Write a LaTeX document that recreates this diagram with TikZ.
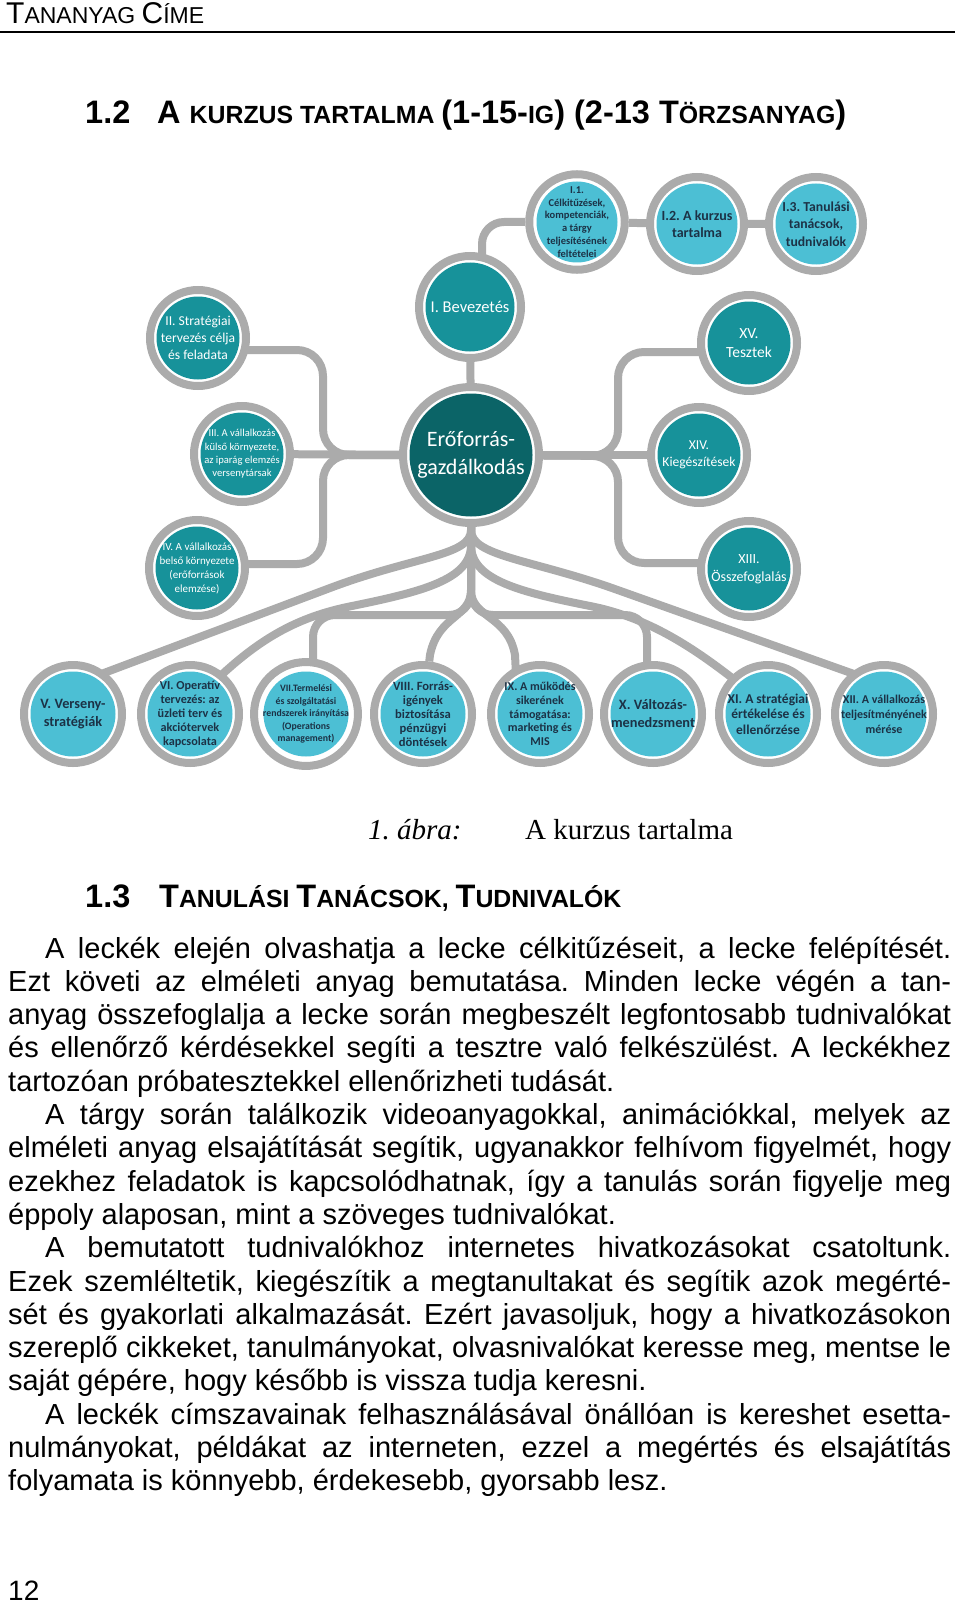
\documentclass[tikz,border=0pt]{standalone}
\usepackage{fontspec}
\setmainfont{Liberation Sans}
\newfontfamily\diagfont{Carlito}
\newfontfamily\serifcap{Liberation Serif}
\usetikzlibrary{calc,backgrounds}
\definecolor{ringgray}{HTML}{ABABAB}
\definecolor{lightb}{HTML}{4CBFD4}
\definecolor{midt}{HTML}{17929A}
\definecolor{darkt}{HTML}{0B6467}
\definecolor{navy}{HTML}{1C3246}
\newcommand\dsz[2]{\fontsize{#1}{#2}\selectfont}
\newcommand\hbig{\fontsize{32.5}{32.5}\selectfont}
\newcommand\hsmall{\fontsize{24.85}{24.85}\selectfont}
\newcommand\tbig{\fontsize{30}{30}\selectfont}
\newcommand\tsmall{\fontsize{23}{23}\selectfont}
\tikzset{
  bub/.style n args={2}{circle, draw=ringgray, line width=8pt, fill=white,
    inner sep=0pt, minimum size={2*#1-8}, align=center,
    path picture={\fill[#2] (path picture bounding box.center) circle ({#1-10.5});}},
  wtxt/.style={text=white},
  dtxt/.style={text=navy},
  conn/.style={draw=ringgray, line width=8pt},
  txt/.style={anchor=base west, inner sep=0pt},
  bodyline/.style={anchor=base west, inner sep=0pt, font=\fontsize{29}{33}\selectfont\frenchspacing},
}
\begin{document}
\frenchspacing
\begin{tikzpicture}[x=1pt,y=-1pt]
\useasboundingbox (0,0) rectangle (960,1605);

% header
\node[txt] (hdr) at (6,23.5) {\tbig T\tsmall ANANYAG \tbig C\tsmall ÍME};
\coordinate (ruleL) at (0,32);
\coordinate (ruleR) at (955,32);
\draw[line width=1.5pt] (ruleL) -- (ruleR);

% heading 1.2
\node[txt, font=\bfseries] (h12n) at (85,124) {\hbig 1.2};
\node[txt, font=\bfseries] (h12) at (157,124) {\hbig A \hsmall KURZUS TARTALMA \hbig(1-15-\hsmall IG\hbig) (2-13 T\hsmall ÖRZSANYAG\hbig)};

% diagram nodes
\node[bub={51}{lightb}, dtxt, font=\diagfont\bfseries\dsz{10.5}{12.8}] (I1) at (577,222) {I.1.\\Célkitűzések,\\kompetenciák,\\a tárgy\\teljesítésének\\feltételei};
\node[bub={51}{lightb}, dtxt, font=\diagfont\bfseries\dsz{14}{17.3}] (I2) at (697,224) {I.2. A kurzus\\tartalma};
\node[bub={51}{lightb}, dtxt, font=\diagfont\bfseries\dsz{13.7}{17.3}] (I3) at (816,224) {I.3. Tanulási\\tanácsok,\\tudnivalók};
\node[bub={55}{midt}, wtxt, font=\diagfont\dsz{16.5}{19}] (I) at (470,307) {I. Bevezetés};
\node[bub={52}{midt}, wtxt, font=\diagfont\dsz{13.6}{17.3}] (II) at (198,338) {II. Stratégiai\\tervezés célja\\és feladata};
\node[bub={52}{midt}, wtxt, font=\diagfont\dsz{15.5}{19}] (XV) at (749,343) {XV.\\Tesztek};
\node[bub={52}{midt}, wtxt, font=\diagfont\dsz{10.6}{13.3}] (III) at (242,454) {III. A vállalkozás\\külső környezete,\\az iparág elemzés\\versenytársak};
\node[bub={72}{darkt}, wtxt, font=\diagfont\dsz{22}{28}] (C) at (471,455) {Erőforrás-\\gazdálkodás};
\node[bub={52}{midt}, wtxt, font=\diagfont\dsz{13.6}{17.6}] (XIV) at (699,455) {XIV.\\Kiegészítések};
\node[bub={52}{midt}, wtxt, font=\diagfont\dsz{11}{14}] (IV) at (197,568) {IV. A vállalkozás\\belső környezete\\(erőforrások\\elemzése)};
\node[bub={52}{midt}, wtxt, font=\diagfont\dsz{14}{17.5}] (XIII) at (749,569) {XIII.\\Összefoglalás};

\node[bub={53}{lightb}, dtxt, font=\diagfont\bfseries\dsz{14.3}{18}] (V) at (73,714) {V. Verseny-\\stratégiák};
\node[bub={53}{lightb}, dtxt, font=\diagfont\bfseries\dsz{12.2}{14}] (VI) at (190,714) {VI. Operatív\\tervezés: az\\üzleti terv és\\akciótervek\\kapcsolata};
\node[bub={53}{lightb}, dtxt, font=\diagfont\bfseries\dsz{9.8}{12.4}] (VII) at (306,714) {VII.Termelési\\és szolgáltatási\\rendszerek irányítása\\(Operations\\management)};
\node[bub={53}{lightb}, dtxt, font=\diagfont\bfseries\dsz{12.6}{14}] (VIII) at (423,714) {VIII. Forrás-\\igények\\biztosítása\\pénzügyi\\döntések};
\node[bub={53}{lightb}, dtxt, font=\diagfont\bfseries\dsz{12}{13.6}] (IX) at (540,714) {IX. A működés\\sikerének\\támogatása:\\marketing és\\MIS};
\node[bub={53}{lightb}, dtxt, font=\diagfont\bfseries\dsz{14.3}{18}] (X) at (653,714) {X. Változás-\\menedzsment};
\node[bub={53}{lightb}, dtxt, font=\diagfont\bfseries\dsz{13.5}{15.5}] (XI) at (768,714) {XI. A stratégiai\\értékelése és\\ellenőrzése};
\node[bub={53}{lightb}, dtxt, font=\diagfont\bfseries\dsz{12}{15}] (XII) at (884,714) {XII. A vállalkozás\\teljesítményének\\mérése};

% connectors
\begin{scope}[on background layer]
\draw[conn] (I1) -- (I2) -- (I3);
\draw[conn, rounded corners=22] (I1) -- (482,222) -- ($(I)+(12,0)$);
\draw[conn] (I) -- (C);
\draw[conn] (III) -- (C);
\draw[conn] (C) -- (XIV);
\draw[conn, rounded corners=26] ($(II)+(0,12)$) -- (323,350) -- (323,455) -- (C);
\draw[conn, rounded corners=26] ($(IV)+(0,-4)$) -- (323,564) -- (323,455) -- (C);
\draw[conn, rounded corners=26] ($(XV)+(0,9)$) -- (618,352) -- (618,456) -- (C);
\draw[conn, rounded corners=26] ($(XIII)+(0,-6)$) -- (618,563) -- (618,456) -- (C);
% fan
\draw[conn] (C) -- (471,530) .. controls (471,556) and (415,556) .. (330,588) -- ($(V)+(15,-35)$);
\draw[conn] (C) -- (471,530) .. controls (471,556) and (529,559) .. (612,588) -- ($(XII)+(-16,-35)$);
\draw[conn] (C) -- (471,545) .. controls (471,580) and (420,592) .. (352,606) .. controls (296,617) and (258,640) .. ($(VI)+(25,-33)$);
\draw[conn] (C) -- (471,545) .. controls (471,580) and (520,592) .. (590,606) .. controls (646,617) and (690,645) .. ($(XI)+(-32,-33)$);
\draw[conn, rounded corners=22] (C) -- (471,615) -- (313,615) -- ($(VII)+(7,0)$);
\draw[conn, rounded corners=22] (C) -- (471,615) -- (647,615) -- ($(X)+(-6,0)$);
\draw[conn] (C) -- (471,590) .. controls (471,618) and (438,615) .. (430,655) -- (VIII);
\draw[conn] (C) -- (471,590) .. controls (471,618) and (508,615) .. (515,655) -- ($(IX)+(-22,0)$);
\end{scope}

% caption
\node[txt, font=\serifcap\itshape\fontsize{29}{29}\selectfont] (capn) at (368,839) {1. ábra:};
\node[txt, font=\serifcap\fontsize{29}{29}\selectfont] (capt) at (525,839) {A kurzus tartalma};

% heading 1.3
\node[txt, font=\bfseries] (h13n) at (85,907) {\hbig 1.3};
\node[txt, font=\bfseries] (h13) at (159,907) {\hbig T\hsmall ANULÁSI \hbig T\hsmall ANÁCSOK, \hbig T\hsmall UDNIVALÓK};

% body text
\node[bodyline] (b1) at (45,958) {\makebox[906pt][s]{A leckék elején olvashatja a lecke célkitűzéseit, a lecke felépítését.}};
\node[bodyline] (b2) at (8,991.3) {\makebox[943pt][s]{Ezt követi az elméleti anyag bemutatása. Minden lecke végén a tan-}};
\node[bodyline] (b3) at (8,1024.6) {\makebox[943pt][s]{anyag összefoglalja a lecke során megbeszélt legfontosabb tudnivalókat}};
\node[bodyline] (b4) at (8,1057.9) {\makebox[943pt][s]{és ellenőrző kérdésekkel segíti a tesztre való felkészülést. A leckékhez}};
\node[bodyline] (b5) at (8,1091.2) {tartozóan próbatesztekkel ellenőrizheti tudását.};
\node[bodyline] (b6) at (45,1124.5) {\makebox[906pt][s]{A tárgy során találkozik videoanyagokkal, animációkkal, melyek az}};
\node[bodyline] (b7) at (8,1157.8) {\makebox[943pt][s]{elméleti anyag elsajátítását segítik, ugyanakkor felhívom figyelmét, hogy}};
\node[bodyline] (b8) at (8,1191.1) {\makebox[943pt][s]{ezekhez feladatok is kapcsolódhatnak, így a tanulás során figyelje meg}};
\node[bodyline] (b9) at (8,1224.4) {éppoly alaposan, mint a szöveges tudnivalókat.};
\node[bodyline] (b10) at (45,1257.7) {\makebox[906pt][s]{A bemutatott tudnivalókhoz internetes hivatkozásokat csatoltunk.}};
\node[bodyline] (b11) at (8,1291) {\makebox[943pt][s]{Ezek szemléltetik, kiegészítik a megtanultakat és segítik azok megérté-}};
\node[bodyline] (b12) at (8,1324.3) {\makebox[943pt][s]{sét és gyakorlati alkalmazását. Ezért javasoljuk, hogy a hivatkozásokon}};
\node[bodyline] (b13) at (8,1357.6) {\makebox[943pt][s]{szereplő cikkeket, tanulmányokat, olvasnivalókat keresse meg, mentse le}};
\node[bodyline] (b14) at (8,1390.9) {saját gépére, hogy később is vissza tudja keresni.};
\node[bodyline] (b15) at (45,1424.2) {\makebox[906pt][s]{A leckék címszavainak felhasználásával önállóan is kereshet esetta-}};
\node[bodyline] (b16) at (8,1457.5) {\makebox[943pt][s]{nulmányokat, példákat az interneten, ezzel a megértés és elsajátítás}};
\node[bodyline] (b17) at (8,1490.8) {folyamata is könnyebb, érdekesebb, gyorsabb lesz.};

% page number
\node[txt, font=\fontsize{28}{28}\selectfont] (pg) at (8,1600) {12};
\end{tikzpicture}
\end{document}
